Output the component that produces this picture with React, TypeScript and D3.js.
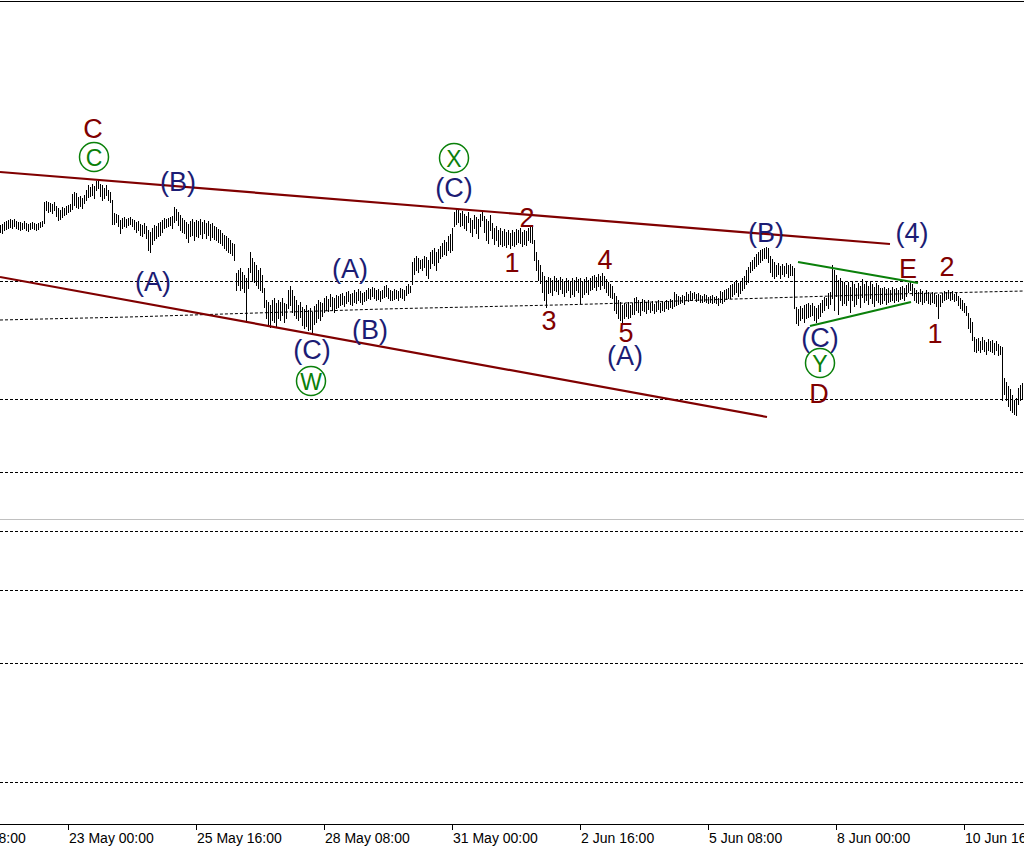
import React from "react";
import * as d3 from "d3";

const W = 1024;
const H = 852;

// first hourly bar shown at the left edge
const startTime = "2018-05-21T14:00";
// time-axis tick labels
const tickTimes = [
  "2018-05-20T08:00", "2018-05-23T00:00", "2018-05-25T16:00", "2018-05-28T08:00",
  "2018-05-31T00:00", "2018-06-02T16:00", "2018-06-05T08:00", "2018-06-08T00:00",
  "2018-06-10T16:00",
];

// hourly bars: [high, low]
const barHL: [number, number][] = [
  [775,768],[776,767],[778,770],[779,771],[780,772],
  [781,773],[780,772],[781,774],[779,772],[778,771],
  [778,770],[777,771],[779,772],[777,770],[776,769],
  [777,771],[778,772],[777,771],[776,770],[777,771],
  [778,773],[779,774],
  [798,777],
  [799,790],[798,788],[797,789],[796,787],[798,790],
  [794,784],[792,780],[790,781],[793,783],[792,785],
  [794,786],[795,788],[796,789],
  [806,791],
  [808,795],[807,793],[803,792],
  [804,794],[802,792],[805,797],[810,800],
  [815,803],[813,804],[816,805],[814,802],
  [819,810],[820,812],
  [816,804],[815,800],[812,802],[815,805],[810,800],[808,798],
  [800,776],
  [787,776],[786,778],[785,774],[780,767],
  [782,772],[783,774],[781,773],[782,775],[783,776],[781,774],[780,771],
  [778,768],[779,770],[776,765],[775,764],[777,767],[774,762],
  [770,750],[768,748],
  [772,756],[775,760],[774,762],[777,764],[778,765],[780,768],
  [782,772],[781,773],[782,774],[783,775],[784,772],
  [793,778],[791,780],
  [788,775],[785,770],[782,768],[780,767],
  [778,762],[776,758],[779,764],[781,765],[778,760],
  [780,764],[779,763],[781,766],[778,762],[780,767],[777,762],[779,765],[776,760],[777,763],
  [774,761],[773,760],[771,758],[770,757],[767,755],[765,752],
  [764,750],[762,748],[760,747],[757,745],
  [756,740],
  [727,710],
  [730,715],[732,710],[728,712],[725,708],
  [722,678],
  [732,712],
  [748,728],
  [742,720],[738,718],[735,715],[730,712],[732,710],[725,708],
  [712,693],
  [700,682],[698,676],[695,673],[700,680],[702,678],[697,674],[700,682],[698,680],[702,685],[697,678],[696,682],
  [710,692],[714,695],[710,688],
  [704,685],[700,682],[695,680],[698,683],
  [693,675],[691,672],[695,674],[690,670],[692,671],[688,667],
  [694,676],[696,678],[700,682],[698,680],[697,684],[702,688],
  [704,690],[701,689],[706,694],[703,690],[702,688],[705,692],[704,693],[706,695],
  [707,696],[704,694],[708,697],[709,699],[706,696],[707,695],[710,698],[708,697],[711,700],[709,698],[707,696],
  [708,699],[710,700],[712,702],[711,701],[713,704],[712,702],[710,700],[711,701],[709,699],[710,702],[714,703],
  [715,704],[712,702],[710,700],[709,700],[711,701],[710,702],[709,700],[712,703],[711,702],[710,700],
  [714,705],[716,707],[714,708],
  [738,716],
  [742,726],[744,730],[742,728],[740,732],[741,730],[744,733],[743,725],[740,722],
  [748,732],[750,737],[752,735],[748,730],[751,738],[754,742],
  [757,744],[760,746],[758,745],[764,750],[766,748],
  [772,750],
  [788,774],[792,776],[790,778],[787,774],
  [789,775],[786,772],[784,770],[788,778],[782,768],[780,764],[785,772],[783,767],[781,762],[786,774],[788,780],[784,768],[781,760],[779,757],[785,770],
  [777,762],[772,756],[774,760],[770,754],[772,756],[769,754],[771,755],[768,753],[770,756],[767,752],[770,755],[768,754],[771,756],[770,758],[772,757],
  [768,754],[770,756],[769,755],[772,760],[774,758],[775,757],
  [760,740],
  [748,730],[740,720],
  [735,717],[728,708],[724,700],[720,693],
  [723,707],[722,708],[720,705],[724,710],[722,709],[720,706],[723,711],[721,707],[719,704],[722,708],[720,710],
  [718,703],[722,706],[720,704],[723,710],[721,708],[722,697],[719,703],[721,706],[723,708],[720,706],[722,710],[724,711],
  [725,713],[723,710],[726,714],[724,711],[727,715],[724,712],
  [721,708],[718,705],[716,703],[714,702],
  [707,690],[704,687],[700,682],
  [698,680],[695,678],[697,682],[696,684],[698,682],[695,683],[697,686],
  [702,686],[703,690],[700,688],[698,685],[701,690],[700,689],[698,687],[700,691],
  [697,688],[699,690],[696,687],[698,689],[700,691],[697,688],[699,690],[698,689],[700,692],[699,691],[701,693],[700,692],
  [708,694],[706,695],[704,696],[703,697],[705,698],[704,696],
  [708,700],[706,699],[709,701],[707,700],[708,702],[706,699],[707,700],
  [705,698],[704,698],[706,699],[705,698],[703,697],[704,698],[705,697],[703,698],[704,697],[702,695],
  [709,698],[708,697],[710,699],[711,701],[712,702],[715,702],
  [716,704],[718,706],[720,708],[717,704],[719,707],[722,710],[724,712],
  [730,716],[733,718],
  [738,728],[740,730],[743,732],[746,734],[748,736],[750,738],[751,740],[752,742],
  [753,742],[752,738],
  [744,728],[741,724],[738,722],[735,724],[737,726],[734,722],
  [736,726],[734,724],[737,727],[735,723],[736,725],[734,725],
  [732,692],
  [693,677],[691,675],[694,680],[692,682],[695,678],[696,682],[697,683],
  [695,684],[697,685],[694,680],[692,678],[695,682],[697,684],
  [700,688],[703,690],[702,695],[707,692],[708,696],
  [735,702],
  [730,690],[725,704],[720,686],[722,700],[718,695],[718,697],
  [715,695],[718,700],[713,688],[719,700],[716,694],[712,696],[717,702],[714,693],[721,703],[716,698],[718,700],[714,696],[719,702],[716,697],[713,694],[717,700],[715,698],[712,696],
  [712,697],[713,700],[711,696],[712,698],[710,699],[713,700],[711,698],[712,700],[710,699],[713,701],[714,702],[712,700],
  [715,704],[717,708],[719,710],[716,705],
  [712,700],[710,698],[708,697],[711,699],[709,696],[707,698],[710,700],[708,697],[706,696],[708,698],[707,697],[705,694],
  [706,682],
  [705,694],[707,698],[709,700],[708,701],[710,702],[708,700],[709,701],[706,699],[707,700],
  [704,695],[702,692],[700,690],[697,688],[694,685],
  [687,672],[682,668],[678,660],
  [663,649],[661,648],[662,650],[659,648],[663,651],[660,649],[658,646],[661,650],[659,649],[660,648],[657,646],[659,650],[656,645],[654,646],
  [653,600],
  [622,606],[618,600],[614,594],[611,590],[605,588],[600,586],[602,585],
  [612,596],[615,600],[617,602],
];

// dotted moving average, one value every 32 bars
const maStep = 32;
const maValues = [680, 681.5, 683, 685, 687, 689, 691, 692.5, 694, 695.5, 697.5, 700, 702, 704, 706, 707.5, 709];

// horizontal dotted price levels
const levels = [719, 601, 528, 469, 410, 337, 218];
const greyLevel = 481;

// trend lines: [barIndex, price] pairs
const channelLines: [number, number][][] = [
  [[0, 828], [445, 756]],
  [[0, 723], [383.5, 583]],
];
const triangleLines: [number, number][][] = [
  [[399, 738], [459, 717]],
  [[405, 674], [455.5, 698]],
];

type Lbl = { t: string; i: number; p: number; k: "red" | "navy" | "circ" };
const waveLabels: Lbl[] = [
  { t: "C", i: 46.5, p: 872, k: "red" },
  { t: "C", i: 47, p: 843, k: "circ" },
  { t: "(B)", i: 89, p: 819, k: "navy" },
  { t: "(A)", i: 76.5, p: 719, k: "navy" },
  { t: "(C)", i: 156, p: 651, k: "navy" },
  { t: "W", i: 155.5, p: 619, k: "circ" },
  { t: "(A)", i: 175, p: 732, k: "navy" },
  { t: "(B)", i: 185, p: 671, k: "navy" },
  { t: "X", i: 227, p: 842, k: "circ" },
  { t: "(C)", i: 227, p: 813, k: "navy" },
  { t: "2", i: 263.5, p: 783, k: "red" },
  { t: "1", i: 256, p: 738, k: "red" },
  { t: "3", i: 274.5, p: 680, k: "red" },
  { t: "4", i: 302.5, p: 741, k: "red" },
  { t: "5", i: 313, p: 668, k: "red" },
  { t: "(A)", i: 312.5, p: 645, k: "navy" },
  { t: "(B)", i: 383, p: 768, k: "navy" },
  { t: "(4)", i: 456, p: 768, k: "navy" },
  { t: "E", i: 454, p: 732, k: "red" },
  { t: "2", i: 473.5, p: 734, k: "red" },
  { t: "1", i: 467.5, p: 667, k: "red" },
  { t: "(C)", i: 410, p: 663, k: "navy" },
  { t: "Y", i: 410, p: 637, k: "circ" },
  { t: "D", i: 409.5, p: 607, k: "red" },
];

const RED = "#800000";
const NAVY = "#1c1c74";
const GREEN = "#0a800a";

export default function App() {
  const parse = d3.utcParse("%Y-%m-%dT%H:%M");
  const fmt = d3.utcFormat("%-d %b %H:%M");
  const t0 = parse(startTime) as Date;
  const timeAt = (i: number) => new Date(t0.getTime() + i * 3600 * 1000);

  const x = d3.scaleUtc().domain([timeAt(0), timeAt(512)]).range([0, 1024]);
  const xi = (i: number) => x(timeAt(i));
  const y = d3.scaleLinear().domain([1000, 175]).range([0, 825]);

  const maLine = d3
    .line<number>()
    .x((_, k) => xi(k * maStep))
    .y((v) => y(v))
    .curve(d3.curveMonotoneX);

  const font = "'Liberation Sans', Arial, sans-serif";

  return (
    <svg
      width={W}
      height={H}
      style={{ position: "absolute", left: 0, top: 0, background: "#fff" }}
      xmlns="http://www.w3.org/2000/svg"
    >
      <rect x={0} y={0} width={W} height={H} fill="#fff" />
      {/* top frame */}
      <line x1={0} x2={W} y1={1.5} y2={1.5} stroke="#000" strokeWidth={1} />

      {/* price levels */}
      {levels.map((lv, k) => (
        <line
          key={"lv" + k}
          x1={0}
          x2={W}
          y1={Math.round(y(lv)) + 0.5}
          y2={Math.round(y(lv)) + 0.5}
          stroke="#000"
          strokeWidth={1}
          strokeDasharray="3,2"
          shapeRendering="crispEdges"
        />
      ))}
      <line
        x1={0}
        x2={W}
        y1={Math.round(y(greyLevel)) + 0.5}
        y2={Math.round(y(greyLevel)) + 0.5}
        stroke="#c0c0c0"
        strokeWidth={1}
        shapeRendering="crispEdges"
      />

      {/* moving average */}
      <path
        d={maLine(maValues) || ""}
        fill="none"
        stroke="#000"
        strokeWidth={1}
        strokeDasharray="3,2"
      />

      {/* bars */}
      {barHL.map(([hi, lo], i) => (
        <line
          key={"b" + i}
          x1={Math.round(xi(i)) + 0.5}
          x2={Math.round(xi(i)) + 0.5}
          y1={Math.round(y(hi))}
          y2={Math.round(y(lo)) + 1}
          stroke="#000"
          strokeWidth={1}
          shapeRendering="crispEdges"
        />
      ))}

      {/* channel */}
      {channelLines.map((ln, k) => (
        <line
          key={"ch" + k}
          x1={xi(ln[0][0])}
          y1={y(ln[0][1])}
          x2={xi(ln[1][0])}
          y2={y(ln[1][1])}
          stroke={RED}
          strokeWidth={2.2}
        />
      ))}
      {triangleLines.map((ln, k) => (
        <line
          key={"tr" + k}
          x1={xi(ln[0][0])}
          y1={y(ln[0][1])}
          x2={xi(ln[1][0])}
          y2={y(ln[1][1])}
          stroke={GREEN}
          strokeWidth={2.2}
        />
      ))}

      {/* wave labels */}
      {waveLabels.map((l, k) => {
        const cx = xi(l.i);
        const cy = y(l.p);
        if (l.k === "circ") {
          return (
            <g key={"l" + k}>
              <circle cx={cx} cy={cy} r={14.5} fill="none" stroke={GREEN} strokeWidth={1.5} />
              <text
                x={cx}
                y={cy + 8.5}
                textAnchor="middle"
                fontFamily={font}
                fontSize={23}
                fill={GREEN}
              >
                {l.t}
              </text>
            </g>
          );
        }
        return (
          <text
            key={"l" + k}
            x={cx}
            y={cy + 9.5}
            textAnchor="middle"
            fontFamily={font}
            fontSize={27}
            fill={l.k === "red" ? RED : NAVY}
          >
            {l.t}
          </text>
        );
      })}

      {/* time axis */}
      <line x1={0} x2={W} y1={824.5} y2={824.5} stroke="#000" strokeWidth={1} shapeRendering="crispEdges" />
      {tickTimes.map((s) => {
        const d = parse(s) as Date;
        const tx = Math.round(x(d)) + 0.5;
        return (
          <g key={s}>
            <line x1={tx} x2={tx} y1={825} y2={830} stroke="#000" strokeWidth={1} shapeRendering="crispEdges" />
            <text x={tx + 0.5} y={843} fontFamily={font} fontSize={14} fill="#000">
              {fmt(d)}
            </text>
          </g>
        );
      })}
    </svg>
  );
}
